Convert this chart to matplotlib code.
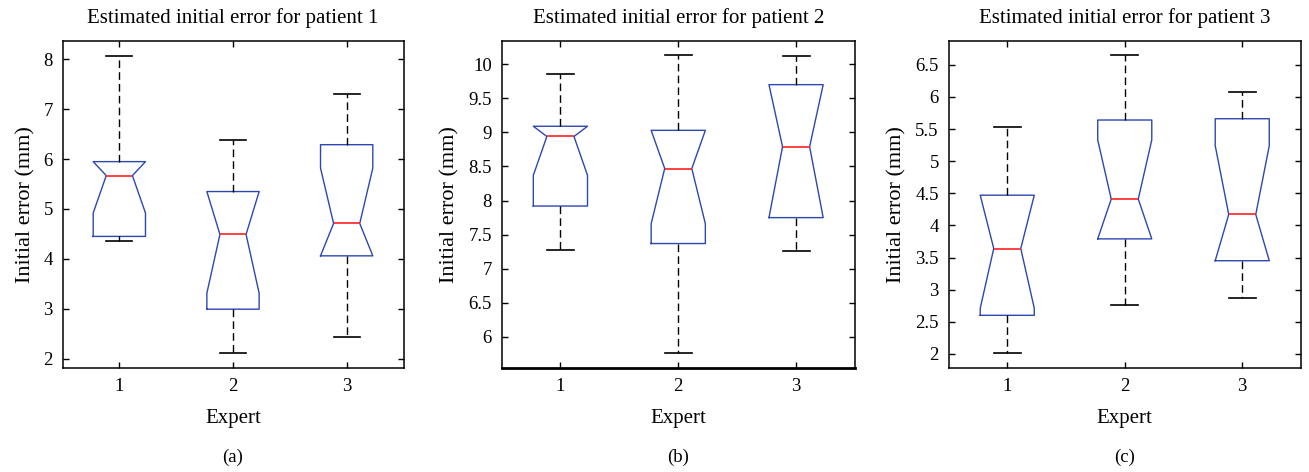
import matplotlib
matplotlib.use('Agg')
import matplotlib.pyplot as plt
import numpy as np

plt.rcParams['font.family'] = ['Liberation Serif', 'DejaVu Serif']

# five-number summaries, one list per statistic, one entry per expert
experts = [1, 2, 3]
titles = ['Estimated initial error for patient 1',
          'Estimated initial error for patient 2',
          'Estimated initial error for patient 3']
panel_tags = ['(a)', '(b)', '(c)']

# patient 1
p1_whislo = [4.35, 2.11, 2.43]
p1_q1 = [4.45, 2.99, 4.06]
p1_cilo = [4.92, 3.31, 4.06]
p1_med = [5.67, 4.49, 4.71]
p1_cihi = [5.95, 5.35, 5.82]
p1_q3 = [5.95, 5.35, 6.29]
p1_whishi = [8.07, 6.39, 7.31]

# patient 2
p2_whislo = [7.27, 5.77, 7.26]
p2_q1 = [7.92, 7.37, 7.75]
p2_cilo = [8.37, 7.66, 7.75]
p2_med = [8.94, 8.47, 8.79]
p2_cihi = [9.09, 9.03, 9.70]
p2_q3 = [9.09, 9.03, 9.70]
p2_whishi = [9.86, 10.13, 10.12]

# patient 3
p3_whislo = [2.01, 2.76, 2.87]
p3_q1 = [2.60, 3.79, 3.45]
p3_cilo = [2.71, 3.79, 3.45]
p3_med = [3.64, 4.41, 4.17]
p3_cihi = [4.47, 5.33, 5.24]
p3_q3 = [4.47, 5.64, 5.66]
p3_whishi = [5.53, 6.65, 6.07]

yticks = [np.arange(2, 8.01, 1), np.arange(6, 10.01, 0.5), np.arange(2, 6.51, 0.5)]
ylims = [(1.81, 8.37), (5.545, 10.34), (1.78, 6.87)]


def make_stats(whislo, q1, cilo, med, cihi, q3, whishi):
    stats = []
    for i in range(len(med)):
        stats.append(dict(whislo=whislo[i], q1=q1[i], cilo=cilo[i], med=med[i],
                          cihi=cihi[i], q3=q3[i], whishi=whishi[i], fliers=[]))
    return stats


all_stats = [
    make_stats(p1_whislo, p1_q1, p1_cilo, p1_med, p1_cihi, p1_q3, p1_whishi),
    make_stats(p2_whislo, p2_q1, p2_cilo, p2_med, p2_cihi, p2_q3, p2_whishi),
    make_stats(p3_whislo, p3_q1, p3_cilo, p3_med, p3_cihi, p3_q3, p3_whishi),
]

fig = plt.figure(figsize=(13.09, 4.72), dpi=100)
W, H = 1309, 472

# axes frames in pixels: left, right, top, bottom
frames = [(62.5, 403.5, 41, 368), (501.5, 855, 41, 368), (948.5, 1301, 41, 368)]

blue = '#2d47b0'
for k in range(3):
    l, r, t, b = frames[k]
    ax = fig.add_axes([l / W, 1 - b / H, (r - l) / W, (b - t) / H])
    ax.bxp(all_stats[k], positions=experts, widths=0.46, shownotches=True,
           boxprops=dict(color=blue, linewidth=1.0),
           medianprops=dict(color='#ff2020', linewidth=1.2),
           whiskerprops=dict(color='black', linewidth=1.0, linestyle=(0, (5.5, 3))),
           capprops=dict(color='black', linewidth=1.2),
           showfliers=False)
    ax.set_xlim(0.5, 3.5)
    ax.set_ylim(*ylims[k])
    ax.set_xticks(experts)
    ax.set_xticklabels([str(e) for e in experts])
    ax.set_yticks(yticks[k])
    ax.set_yticklabels(['%g' % v for v in yticks[k]])
    ax.tick_params(direction='in', length=4, width=1, top=True, right=True,
                   labelsize=13.5, pad=7)
    for s in ax.spines.values():
        s.set_linewidth(1.1)
    if k == 1:
        ax.spines['bottom'].set_linewidth(2.0)
    ax.set_title(titles[k], fontsize=15, pad=13)
    ax.set_xlabel('Expert', fontsize=15, labelpad=10)
    ax.set_ylabel('Initial error (mm)', fontsize=16, labelpad=6)
    fig.text((l + r) / 2 / W, 1 - 457 / H, panel_tags[k], fontsize=13.5,
             ha='center', va='center')

fig.savefig('out.png', dpi=100)
